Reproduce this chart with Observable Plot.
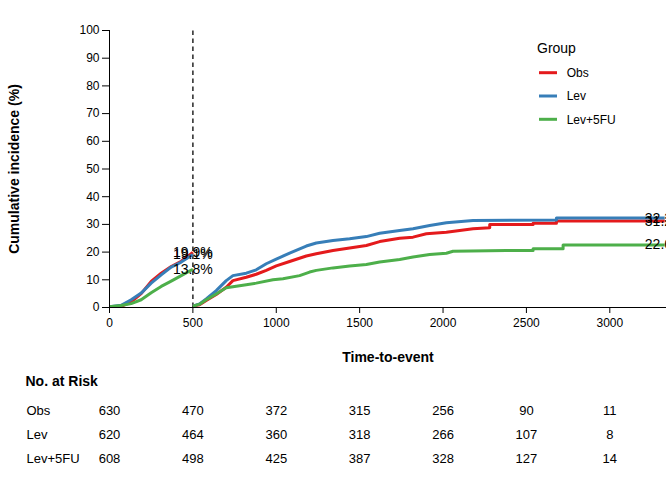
<!DOCTYPE html>
<html><head><meta charset="utf-8">
<script src="https://cdn.jsdelivr.net/npm/d3@7"></script>
<script src="https://cdn.jsdelivr.net/npm/@observablehq/plot@0.6"></script>
<style>
body{margin:0;background:#fff;font-family:"Liberation Sans",Arial,sans-serif;}
#wrap{position:relative;width:672px;height:480px;background:#fff;}
#wrap svg{display:block;}
</style></head><body><div id="wrap"></div>
<script>
const groups = ["Obs", "Lev", "Lev+5FU"];
const colors = ["#E41A1C", "#377EB8", "#4DAF4A"];
const landmark = 500;
const xTicks = [0, 500, 1000, 1500, 2000, 2500, 3000];
const yTicks = [0, 10, 20, 30, 40, 50, 60, 70, 80, 90, 100];

// Segment 1 (before landmark)
const t1 = [0, 70, 130, 190, 250, 310, 370, 430, 500];
const obs1 = [0.3, 0.4, 2.0, 5.0, 9.4, 12.4, 14.8, 16.7, 19.9];
const lev1 = [0.3, 0.8, 2.8, 5.2, 8.8, 11.8, 14.6, 16.4, 19.1];
const lfu1 = [0.3, 0.7, 1.4, 2.8, 5.3, 7.6, 9.5, 11.5, 13.8];

// Segment 2 (after landmark)
const obsT2 = [500, 540, 580, 640, 700, 740, 820, 880, 940, 1000, 1080, 1180, 1240, 1340, 1440, 1540, 1620, 1740, 1820, 1900, 2020, 2180, 2280, 2280, 2540, 2540, 2680, 2680, 3329];
const obsV2 = [0.5, 1.0, 2.5, 4.7, 7.3, 9.7, 10.9, 12.0, 13.4, 15.0, 16.6, 18.6, 19.4, 20.6, 21.5, 22.4, 23.8, 25.0, 25.4, 26.6, 27.2, 28.4, 28.8, 30.0, 30.0, 30.4, 30.4, 31.2, 31.2];
const levT2 = [500, 540, 580, 640, 700, 740, 820, 880, 940, 1000, 1080, 1180, 1240, 1340, 1440, 1540, 1620, 1740, 1820, 1920, 2020, 2180, 2680, 2680, 3329];
const levV2 = [0.5, 1.3, 3.1, 6.1, 9.7, 11.5, 12.4, 13.6, 15.8, 17.5, 19.6, 22.2, 23.3, 24.2, 24.8, 25.6, 26.8, 27.8, 28.4, 29.6, 30.6, 31.4, 31.6, 32.3, 32.3];
const lfuT2 = [500, 540, 580, 640, 700, 740, 820, 880, 980, 1040, 1140, 1200, 1240, 1340, 1440, 1540, 1620, 1740, 1820, 1920, 2020, 2060, 2380, 2540, 2540, 2720, 2720, 3329];
const lfuV2 = [0.5, 1.2, 2.8, 4.9, 7.1, 7.5, 8.2, 8.8, 10.0, 10.4, 11.5, 12.8, 13.4, 14.3, 15.0, 15.5, 16.4, 17.3, 18.2, 19.1, 19.6, 20.3, 20.6, 20.6, 21.2, 21.2, 22.6, 22.6];

// Number at risk
const riskTimes = [0, 500, 1000, 1500, 2000, 2500, 3000];
const riskObs = [630, 470, 372, 315, 256, 90, 11];
const riskLev = [620, 464, 360, 318, 266, 107, 8];
const riskLfu = [608, 498, 425, 387, 328, 127, 14];

const seg1 = [obs1, lev1, lfu1];
const seg2T = [obsT2, levT2, lfuT2];
const seg2V = [obsV2, levV2, lfuV2];
const riskAll = [riskObs, riskLev, riskLfu];

const rows = [];
groups.forEach((g, i) => {
  t1.forEach((t, j) => rows.push({group: g, seg: 1, t, v: seg1[i][j]}));
  seg2T[i].forEach((t, j) => rows.push({group: g, seg: 2, t, v: seg2V[i][j]}));
});
const startLabels = groups.map((g, i) => ({group: g, t: t1[t1.length - 1], v: seg1[i][seg1[i].length - 1]}));
const endLabels = groups.map((g, i) => ({group: g, t: seg2T[i][seg2T[i].length - 1], v: seg2V[i][seg2V[i].length - 1]}));
const lab = d => d.v.toFixed(1) + "%";

const font = "Liberation Sans, Arial, sans-serif";

const main = Plot.plot({
  width: 672, height: 372,
  marginTop: 30, marginBottom: 65, marginLeft: 109, marginRight: 6,
  style: {fontFamily: font, fontSize: "12px", color: "#000", background: "#fff", overflow: "visible"},
  x: {domain: [0, 3340], ticks: xTicks, tickSize: 6, tickPadding: 5, label: null, tickFormat: d => String(d)},
  y: {domain: [0, 100], ticks: yTicks, tickSize: 7, tickPadding: 3, label: null},
  color: {domain: groups, range: colors},
  marks: [
    Plot.ruleX([landmark], {x: d => d, y1: 0, y2: 100, stroke: "#333", strokeWidth: 1.6, strokeDasharray: "4.5,3.5"}),
    Plot.line(rows, {x: "t", y: "v", z: d => d.group + "|" + d.seg, stroke: "group", strokeWidth: 3, strokeLinecap: "butt", strokeLinejoin: "round", clip: true}),
    Plot.text(startLabels, {x: "t", y: "v", text: lab, fontSize: 14, fill: "#000"}),
    Plot.text(endLabels, {x: "t", y: "v", text: lab, fontSize: 14, fill: "#000", clip: true}),
    Plot.ruleY([0], {stroke: "#000", strokeWidth: 1}),
    Plot.ruleX([0], {y1: 0, y2: 100, stroke: "#000", strokeWidth: 1}),
    Plot.text(["Time-to-event"], {text: d => d, frameAnchor: "bottom", textAnchor: "middle", lineAnchor: "middle", dy: 50, fontWeight: "bold", fontSize: 14, fill: "#000"}),
    Plot.text(["Cumulative incidence (%)"], {text: d => d, frameAnchor: "left", textAnchor: "middle", lineAnchor: "middle", dx: -95, rotate: -90, fontWeight: "bold", fontSize: 14, fill: "#000"})
  ]
});

const risk = [];
groups.forEach((g, i) => riskTimes.forEach((t, j) => risk.push({group: g, t, n: riskAll[i][j]})));

const table = Plot.plot({
  width: 672, height: 108,
  marginTop: 26.5, marginBottom: 9.5, marginLeft: 109, marginRight: 6,
  style: {fontFamily: font, fontSize: "13px", color: "#000", background: "#fff", overflow: "visible"},
  x: {domain: [0, 3340], axis: null},
  y: {type: "band", domain: groups, padding: 0, axis: null, round: false},
  marks: [
    Plot.text(risk, {x: "t", y: "group", text: d => String(d.n), fontSize: 13, fill: "#000"}),
    Plot.text(groups, {y: d => d, text: d => d, frameAnchor: "left", dx: -83, textAnchor: "start", fontSize: 13, fill: "#000"}),
    Plot.text(["No. at Risk"], {text: d => d, frameAnchor: "top-left", dx: -84, dy: -17, textAnchor: "start", lineAnchor: "middle", fontWeight: "bold", fontSize: 14, fill: "#000"})
  ]
});

const wrap = document.getElementById("wrap");
wrap.appendChild(main);
wrap.appendChild(table);

// Legend
const leg = d3.create("svg")
  .attr("width", 140).attr("height", 110)
  .style("position", "absolute").style("left", "530px").style("top", "30px")
  .style("font-family", font);
leg.append("text").attr("x", 7).attr("y", 23.3).attr("font-size", 14).attr("fill", "#000").text("Group");
groups.forEach((g, i) => {
  const y = 42.7 + i * 23.3;
  leg.append("line").attr("x1", 9).attr("x2", 27).attr("y1", y).attr("y2", y)
    .attr("stroke", colors[i]).attr("stroke-width", 3);
  leg.append("text").attr("x", 36.7).attr("y", y).attr("dy", "0.35em")
    .attr("font-size", 12).attr("fill", "#000").text(g);
});
wrap.appendChild(leg.node());
</script>
</body></html>
